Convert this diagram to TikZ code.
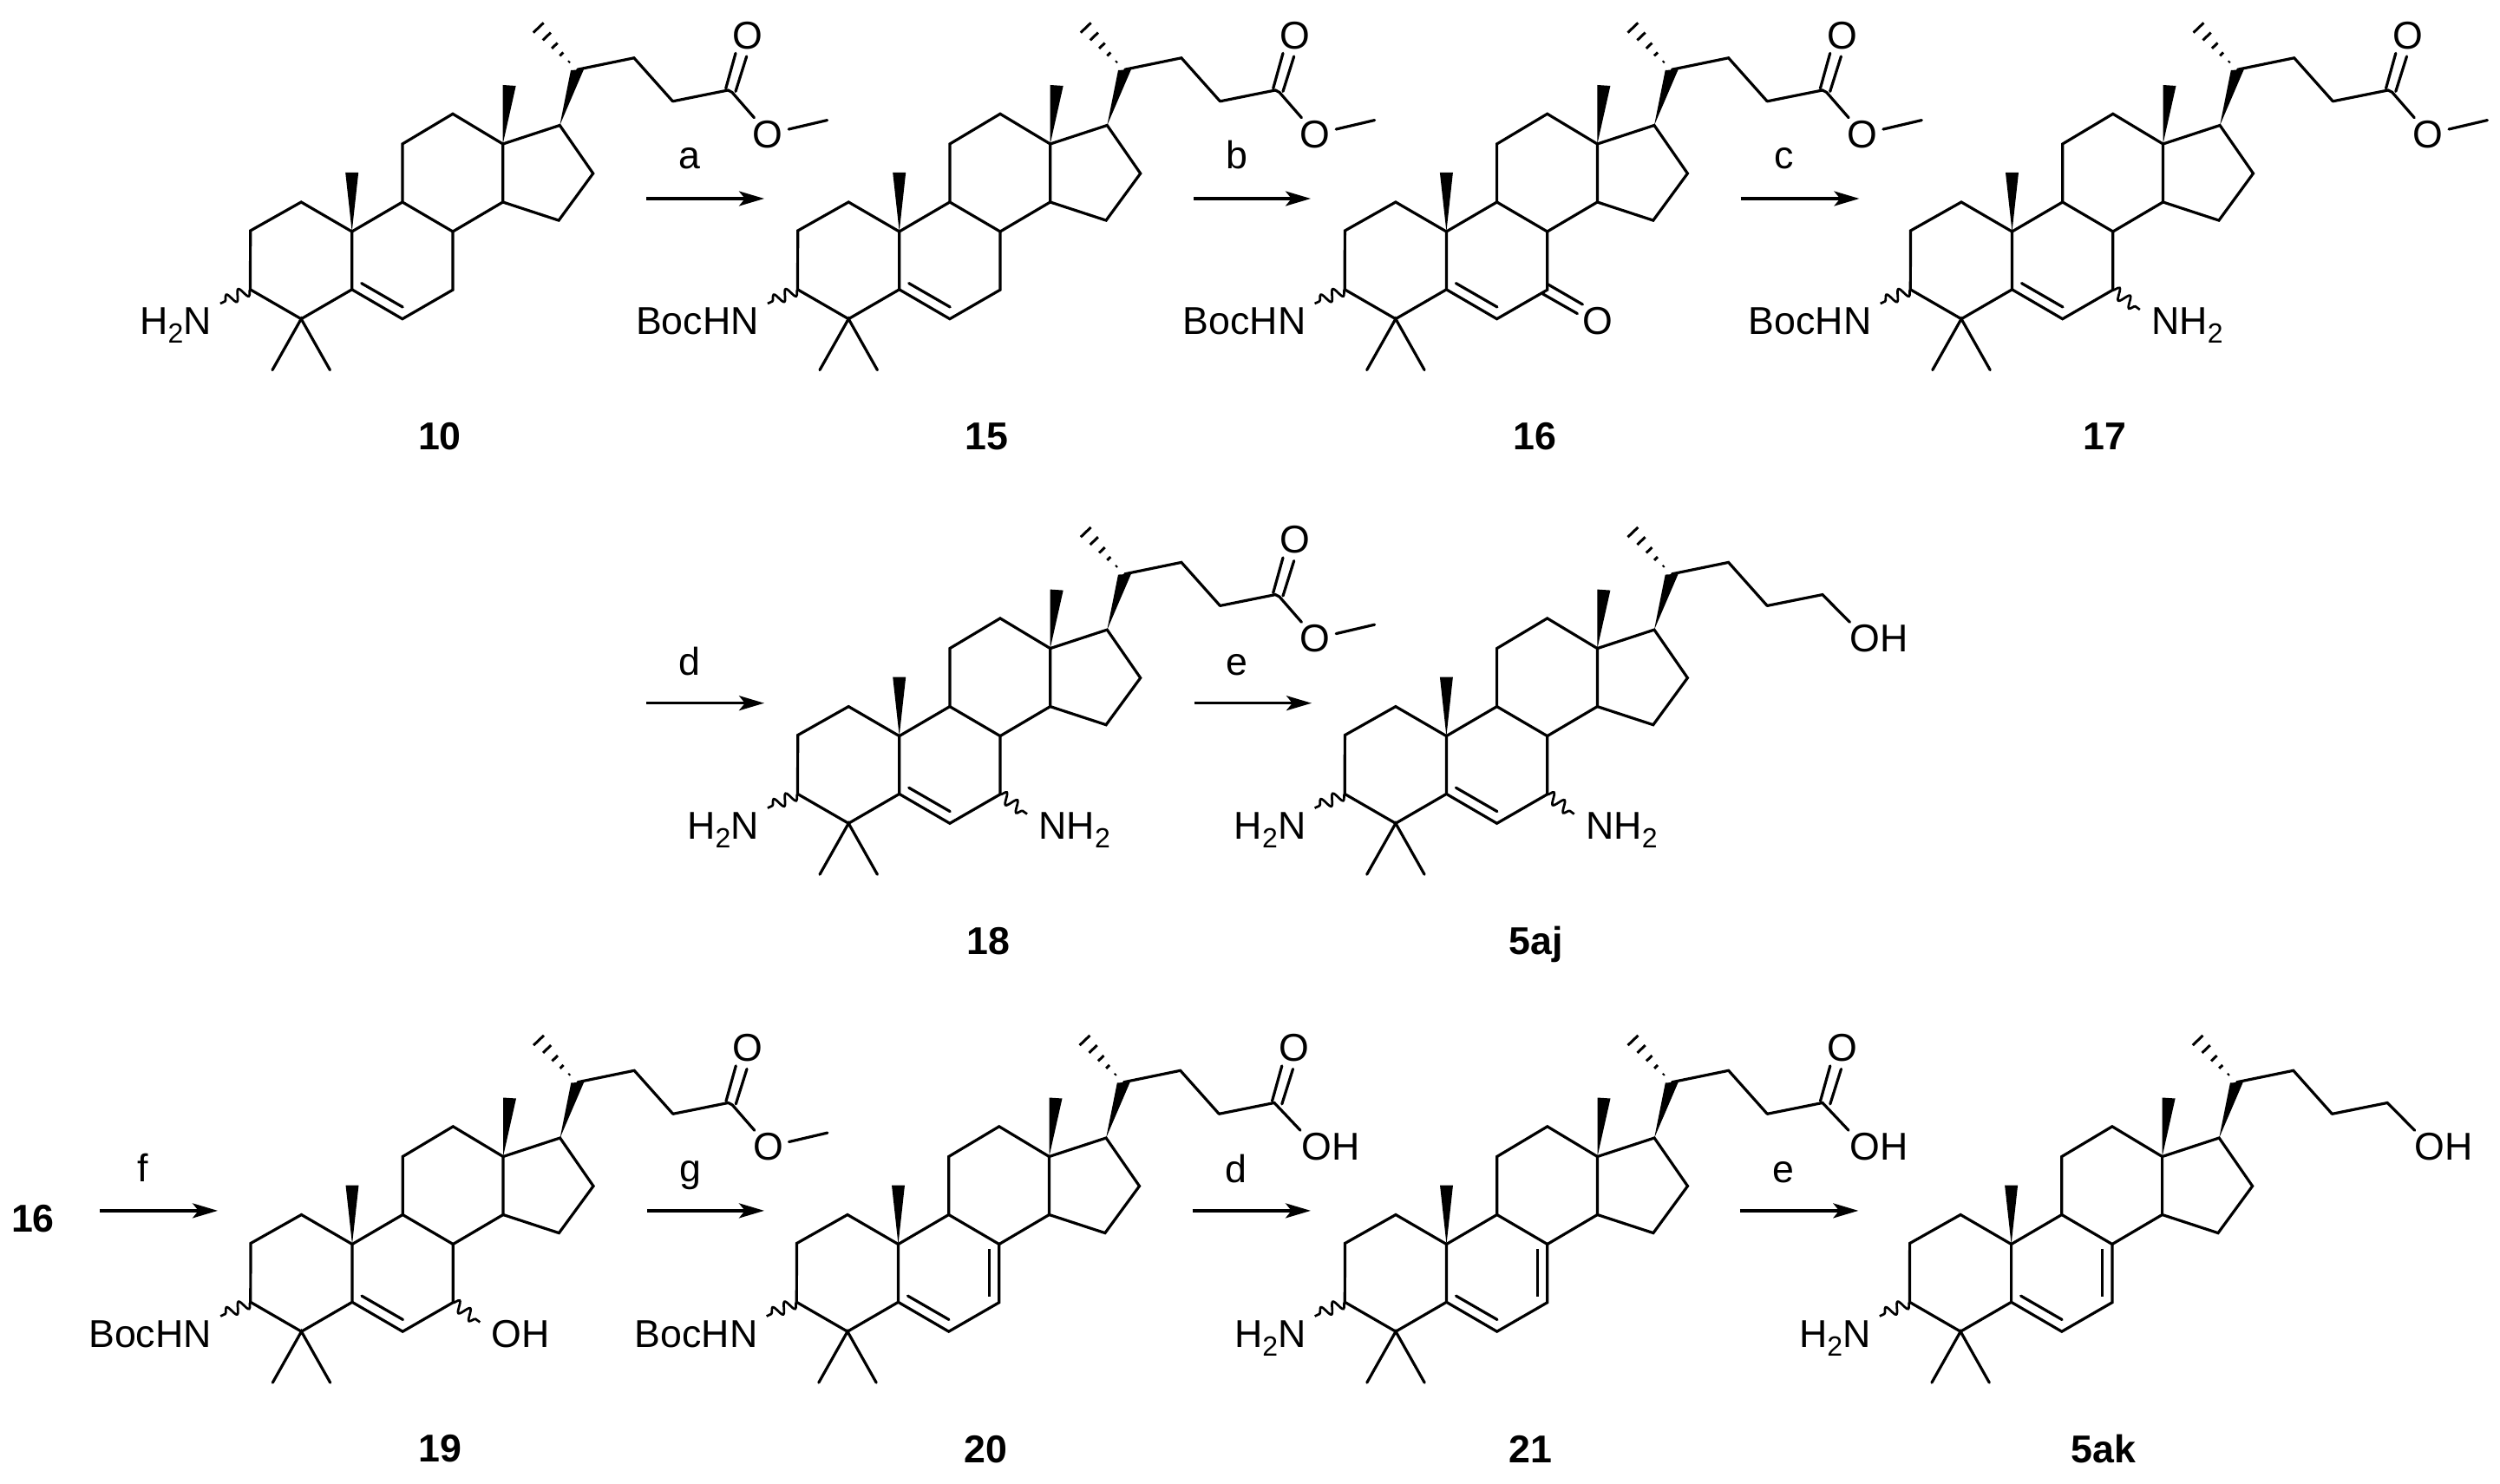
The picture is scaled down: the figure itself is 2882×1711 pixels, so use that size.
\documentclass[tikz,border=0pt]{standalone}
\usepackage{fontspec}
\setmainfont{Liberation Sans}
\usetikzlibrary{arrows.meta,decorations.pathmorphing}
\newcommand{\subtwo}{\raisebox{-5pt}{\fontsize{16pt}{16pt}\selectfont 2}}
\tikzset{
  bond/.style={line width=1.6pt,line cap=round,line join=miter,black},
  thinbond/.style={line width=1.5pt,line cap=butt,black},
  wavebond/.style={line width=1.35pt,black,decorate,decoration={snake,segment length=7.6pt,amplitude=3.2pt,pre length=0pt,post length=0pt}},
  rxnarrow/.style={line width=1.6pt,black,-{Stealth[length=14.5pt,width=8.5pt,inset=3.4pt]}},
  atomlabel/.style={inner sep=0pt,font=\fontsize{22.35pt}{24pt}\selectfont},
  stepletter/.style={inner sep=0pt,anchor=base,font=\fontsize{22.35pt}{24pt}\selectfont},
  compoundlabel/.style={inner sep=0pt,anchor=base,font=\fontsize{22.35pt}{24pt}\selectfont\bfseries},
}
% core skeleton; #1 name, #2 x, #3 y of C10
\newcommand{\steroid}[3]{%
\begin{scope}[shift={(#2,#3)},name prefix=#1-]
 \coordinate (c10) at (0,0);
 \coordinate (c1) at (-58.5,-34);
 \coordinate (c2) at (-117,-1);
 \coordinate (c3) at (-117.2,66.8);
 \coordinate (c4) at (-58.5,100.7);
 \coordinate (c5) at (0,66.8);
 \coordinate (c6) at (58.2,100.7);
 \coordinate (c7) at (116.3,67.2);
 \coordinate (c8) at (116.3,0);
 \coordinate (c9) at (58.2,-34);
 \coordinate (c11) at (58.2,-101);
 \coordinate (c12) at (116.3,-135.7);
 \coordinate (c13) at (174,-101);
 \coordinate (c14) at (174,-34);
 \coordinate (c15) at (238.4,-12.9);
 \coordinate (c16) at (278,-67);
 \coordinate (c17) at (239.6,-122.5);
 \coordinate (c20) at (260,-186.8);
 \coordinate (c22) at (325.2,-200.2);
 \coordinate (c23) at (369.8,-150.2);
 \coordinate (c24) at (433.5,-163);
 \coordinate (me4a) at (-91.7,159.6);
 \coordinate (me4b) at (-25.3,159.6);
 \coordinate (w19a) at (-7.5,-68);
 \coordinate (w19b) at (7.5,-68);
 \coordinate (w18a) at (174,-169);
 \coordinate (w18b) at (189,-168);
 \coordinate (w20a) at (252.3,-186);
 \coordinate (w20b) at (267.3,-187);
 \draw[bond] (c10)--(c1)--(c2)--(c3)--(c4)--(c5)--(c6)--(c7)--(c8)--(c9)--(c10)--(c5);
 \draw[bond] (c9)--(c11)--(c12)--(c13)--(c14)--(c8);
 \draw[bond] (c14)--(c15)--(c16)--(c17)--(c13);
 \draw[bond] (me4a)--(c4)--(me4b);
 \fill (c10)--(w19a)--(w19b)--cycle;
 \fill (c13)--(w18a)--(w18b)--cycle;
 \fill (c17)--(w20a)--(w20b)--cycle;
 \draw[bond] (c20)--(c22)--(c23);
 \foreach \cx/\cy/\h in {215/-235/8.2,224.6/-225/6.4,233.7/-214.3/4.6,241.6/-204.6/2.8,250.3/-195.7/1.0}
   \draw[line width=1.5pt,black] (\cx+0.72*\h,\cy-0.69*\h)--(\cx-0.72*\h,\cy+0.69*\h);
\end{scope}}
% double bond 5,6
\newcommand{\dblfive}[3]{\begin{scope}[shift={(#2,#3)},name prefix=#1-]
 \coordinate (d5a) at (11,59.6); \coordinate (d5b) at (58.5,87);
 \draw[bond] (d5a)--(d5b);\end{scope}}
% double bond 7,8
\newcommand{\dblseven}[3]{\begin{scope}[shift={(#2,#3)},name prefix=#1-]
 \coordinate (d7a) at (104.6,5.4); \coordinate (d7b) at (104.6,60.8);
 \draw[thinbond] (d7a)--(d7b);\end{scope}}
% carbonyl and tails
\newcommand{\carbonyl}[3]{\begin{scope}[shift={(#2,#3)},name prefix=#1-]
 \coordinate (co1a) at (431,-165); \coordinate (co1b) at (442.3,-205.6);
 \coordinate (co2a) at (442.3,-161.6); \coordinate (co2b) at (455,-202);
 \draw[bond] (co1a)--(co1b);
 \draw[bond] (co2a)--(co2b);
 \node[atomlabel,anchor=base] (oc) at (456,-210.6) {O};
\end{scope}}
\newcommand{\ester}[3]{\carbonyl{#1}{#2}{#3}\begin{scope}[shift={(#2,#3)},name prefix=#1-]
 \coordinate (co) at (438.2,-160.6); \coordinate (oe) at (463.7,-131.3);
 \coordinate (om1) at (503.5,-118); \coordinate (om2) at (547.9,-128.4);
 \draw[bond] (c23)--(c24)--(co)--(oe);
 \draw[bond] (om1)--(om2);
 \node[atomlabel,anchor=base] (oest) at (479.5,-96.6) {O};
\end{scope}}
\newcommand{\acid}[3]{\carbonyl{#1}{#2}{#3}\begin{scope}[shift={(#2,#3)},name prefix=#1-]
 \coordinate (oh) at (463.5,-131.3);
 \draw[bond] (c23)--(c24)--(oh);
 \node[atomlabel,anchor=base west] (ohl) at (464.5,-96.6) {OH};
\end{scope}}
\newcommand{\alcohol}[3]{\begin{scope}[shift={(#2,#3)},name prefix=#1-]
 \coordinate (oh) at (465,-131.3);
 \draw[bond] (c23)--(c24)--(oh);
 \node[atomlabel,anchor=base west] (ohl) at (464.5,-96.6) {OH};
\end{scope}}
% substituent at C3
\newcommand{\subthree}[4]{\begin{scope}[shift={(#2,#3)},name prefix=#1-]
 \coordinate (w3) at (-151.8,83);
 \draw[wavebond] (c3)--(w3);
 \node[atomlabel,anchor=base east] (n3) at (-161.7,118.7) {#4};
\end{scope}}
% substituent at C7
\newcommand{\subseven}[4]{\begin{scope}[shift={(#2,#3)},name prefix=#1-]
 \coordinate (w7) at (147.3,90);
 \draw[wavebond] (c7)--(w7);
 \node[atomlabel,anchor=base west] (n7) at (160.5,118.7) {#4};
\end{scope}}
\newcommand{\ketone}[3]{\begin{scope}[shift={(#2,#3)},name prefix=#1-]
 \coordinate (k1a) at (117.3,61); \coordinate (k1b) at (157,84);
 \coordinate (k2a) at (111,71.8); \coordinate (k2b) at (151,94.6);
 \draw[bond] (k1a)--(k1b);
 \draw[bond] (k2a)--(k2b);
 \node[atomlabel,anchor=base] (ok) at (174,118.7) {O};
\end{scope}}
\newcommand{\rxn}[6]{% name, x1, x2, y, letter, baseline
 \coordinate (#1s) at (#2,#4);
 \coordinate (#1e) at (#3,#4);
 \draw[rxnarrow] (#1s)--(#1e);
 \node[stepletter] (#1l) at ({(#2+#3)/2-18},#6) {#5};}
\begin{document}
\begin{tikzpicture}[x=0.5pt,y=-0.5pt]
\useasboundingbox (0,0) rectangle (2882,1711);
\fill[white] (0,0) rectangle (2882,1711);
\def\HN{H\subtwo N}
\def\NH{NH\subtwo}
% row 1
\steroid{a}{405.7}{267}\dblfive{a}{405.7}{267}\ester{a}{405.7}{267}\subthree{a}{405.7}{267}{\HN}
\steroid{b}{1036.7}{267}\dblfive{b}{1036.7}{267}\ester{b}{1036.7}{267}\subthree{b}{1036.7}{267}{BocHN}
\steroid{c}{1667.4}{267}\dblfive{c}{1667.4}{267}\ester{c}{1667.4}{267}\subthree{c}{1667.4}{267}{BocHN}\ketone{c}{1667.4}{267}
\steroid{d}{2319.5}{267}\dblfive{d}{2319.5}{267}\ester{d}{2319.5}{267}\subthree{d}{2319.5}{267}{BocHN}\subseven{d}{2319.5}{267}{\NH}
% row 2
\steroid{e}{1036.7}{848.6}\dblfive{e}{1036.7}{848.6}\ester{e}{1036.7}{848.6}\subthree{e}{1036.7}{848.6}{\HN}\subseven{e}{1036.7}{848.6}{\NH}
\steroid{f}{1667.4}{848.6}\dblfive{f}{1667.4}{848.6}\alcohol{f}{1667.4}{848.6}\subthree{f}{1667.4}{848.6}{\HN}\subseven{f}{1667.4}{848.6}{\NH}
% row 3
\steroid{g}{406}{1434.5}\dblfive{g}{406}{1434.5}\ester{g}{406}{1434.5}\subthree{g}{406}{1434.5}{BocHN}\subseven{g}{406}{1434.5}{OH}
\steroid{h}{1035.5}{1434.5}\dblfive{h}{1035.5}{1434.5}\dblseven{h}{1035.5}{1434.5}\acid{h}{1035.5}{1434.5}\subthree{h}{1035.5}{1434.5}{BocHN}
\steroid{i}{1667.5}{1434.5}\dblfive{i}{1667.5}{1434.5}\dblseven{i}{1667.5}{1434.5}\acid{i}{1667.5}{1434.5}\subthree{i}{1667.5}{1434.5}{\HN}
\steroid{j}{2318.6}{1434.5}\dblfive{j}{2318.6}{1434.5}\dblseven{j}{2318.6}{1434.5}\alcohol{j}{2318.6}{1434.5}\subthree{j}{2318.6}{1434.5}{\HN}
% arrows
\rxn{ra}{745}{881}{229}{a}{194.6}
\rxn{rb}{1376}{1511}{229}{b}{194.6}
\rxn{rc}{2006.7}{2143.4}{229}{c}{194.6}
\rxn{rd}{745}{881}{810.7}{d}{778}
\rxn{re}{1376.5}{1512}{810.7}{e}{778}
\rxn{rf}{115}{251}{1395.9}{f}{1362}
\rxn{rg}{746}{881}{1395.9}{g}{1362}
\rxn{rh}{1374.7}{1511}{1395.9}{d}{1363}
\rxn{ri}{2005.8}{2142.3}{1395.9}{e}{1363}
% compound labels
\node[compoundlabel] (l10) at (507,518.6) {10};
\node[compoundlabel] (l15) at (1137.8,518.6) {15};
\node[compoundlabel] (l16) at (1769,518.6) {16};
\node[compoundlabel] (l17) at (2426,518.6) {17};
\node[compoundlabel] (l18) at (1139,1100) {18};
\node[compoundlabel] (l5aj) at (1770.7,1100) {5aj};
\node[compoundlabel] (l19) at (507.6,1685.5) {19};
\node[compoundlabel] (l20) at (1136,1686) {20};
\node[compoundlabel] (l21) at (1764,1686) {21};
\node[compoundlabel] (l5ak) at (2425,1686) {5ak};
\node[compoundlabel] (l16b) at (38,1420) {16};
\end{tikzpicture}
\end{document}
